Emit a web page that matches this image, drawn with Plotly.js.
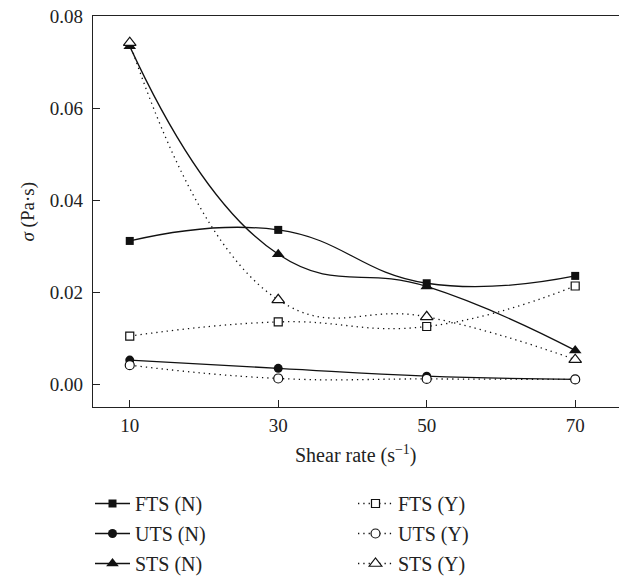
<!DOCTYPE html>
<html>
<head>
<meta charset="utf-8">
<script src="https://cdn.plot.ly/plotly-3.0.1.min.js"></script>
<style>html,body{margin:0;padding:0;background:#fff;}#chart{width:619px;height:578px;}</style>
</head>
<body>
<div id="chart"></div>
<script>
const shearRate = [10, 30, 50, 70];
const ftsN = [0.0311, 0.0335, 0.0219, 0.0235];
const ftsY = [0.0104, 0.0135, 0.0125, 0.0213];
const utsN = [0.0052, 0.0034, 0.0017, 0.0010];
const utsY = [0.0041, 0.0012, 0.0011, 0.0010];
const stsN = [0.0734, 0.0282, 0.0212, 0.0073];
const stsY = [0.0742, 0.0183, 0.0146, 0.0053];
const xTicks = [10, 30, 50, 70];
const yTicks = [0.00, 0.02, 0.04, 0.06, 0.08];

const FONT = '"Liberation Serif", "Times New Roman", serif';
const INK = '#222';
const solid = {color: '#111', width: 1.3, shape: 'spline', smoothing: 1.3};
const dotted = {color: '#111', width: 1.3, shape: 'spline', smoothing: 1.3, dash: '1.3px,4px'};

function tr(name, y, line, symbol, size, filled, legend, group) {
  return {
    x: shearRate, y: y, name: name, type: 'scatter', mode: 'lines+markers',
    line: line, legend: legend, legendgroup: group,
    marker: {symbol: symbol, size: size, color: filled ? '#111' : '#fff',
             line: {color: '#111', width: filled ? 0 : 1.2}}
  };
}

const data = [
  tr('FTS (N)', ftsN, solid, 'square', 8, true, 'legend', 'a'),
  tr('FTS (Y)', ftsY, dotted, 'square', 8, false, 'legend2', 'a'),
  tr('UTS (N)', utsN, solid, 'circle', 9, true, 'legend', 'b'),
  tr('UTS (Y)', utsY, dotted, 'circle', 9, false, 'legend2', 'b'),
  tr('STS (N)', stsN, solid, 'triangle-up', 11, true, 'legend', 'c'),
  tr('STS (Y)', stsY, dotted, 'triangle-up', 11, false, 'legend2', 'c')
];

const legendCommon = {
  orientation: 'v', xref: 'container', yref: 'container', yanchor: 'top', xanchor: 'left',
  font: {family: FONT, size: 20, color: INK}, tracegroupgap: 1,
  bgcolor: 'rgba(0,0,0,0)', itemwidth: 35
};

const layout = {
  width: 619, height: 578,
  margin: {l: 93, r: 0, t: 16, b: 171, autoexpand: false},
  paper_bgcolor: '#fff', plot_bgcolor: '#fff',
  font: {family: FONT, size: 19, color: INK},
  showlegend: true,
  xaxis: {
    range: [5.05, 75.9], tickvals: xTicks, ticktext: xTicks.map(String),
    ticks: 'inside', ticklen: 7, tickwidth: 1, tickcolor: INK,
    showline: true, linecolor: INK, linewidth: 1.3, mirror: true,
    showgrid: false, zeroline: false, automargin: false, ticklabelstandoff: 1,
    tickfont: {family: FONT, size: 19, color: INK}
  },
  yaxis: {
    range: [-0.005, 0.08], tickvals: yTicks, ticktext: yTicks.map(v => v.toFixed(2)),
    ticks: 'inside', ticklen: 7, tickwidth: 1, tickcolor: INK,
    showline: true, linecolor: INK, linewidth: 1.3,
    showgrid: false, zeroline: false, automargin: false, ticklabelstandoff: 5,
    tickfont: {family: FONT, size: 19, color: INK}
  },
  annotations: [
    {text: 'Shear rate (s<sup>−1</sup>)', xref: 'paper', yref: 'paper', x: 0.5, y: -(455 - 407) / 391,
     xanchor: 'center', yanchor: 'middle', showarrow: false, font: {family: FONT, size: 20, color: INK}},
    {text: '<i>σ</i> (Pa·s)', xref: 'paper', yref: 'paper', x: (27 - 93) / 526, y: 0.5, textangle: -90,
     xanchor: 'center', yanchor: 'middle', showarrow: false, font: {family: FONT, size: 19, color: INK}}
  ],
  legend: Object.assign({}, legendCommon, {x: 90/619, y: (578-484)/578}),
  legend2: Object.assign({}, legendCommon, {x: 353/619, y: (578-484)/578})
};

Plotly.newPlot('chart', data, layout, {displayModeBar: false, staticPlot: true});
</script>
</body>
</html>
